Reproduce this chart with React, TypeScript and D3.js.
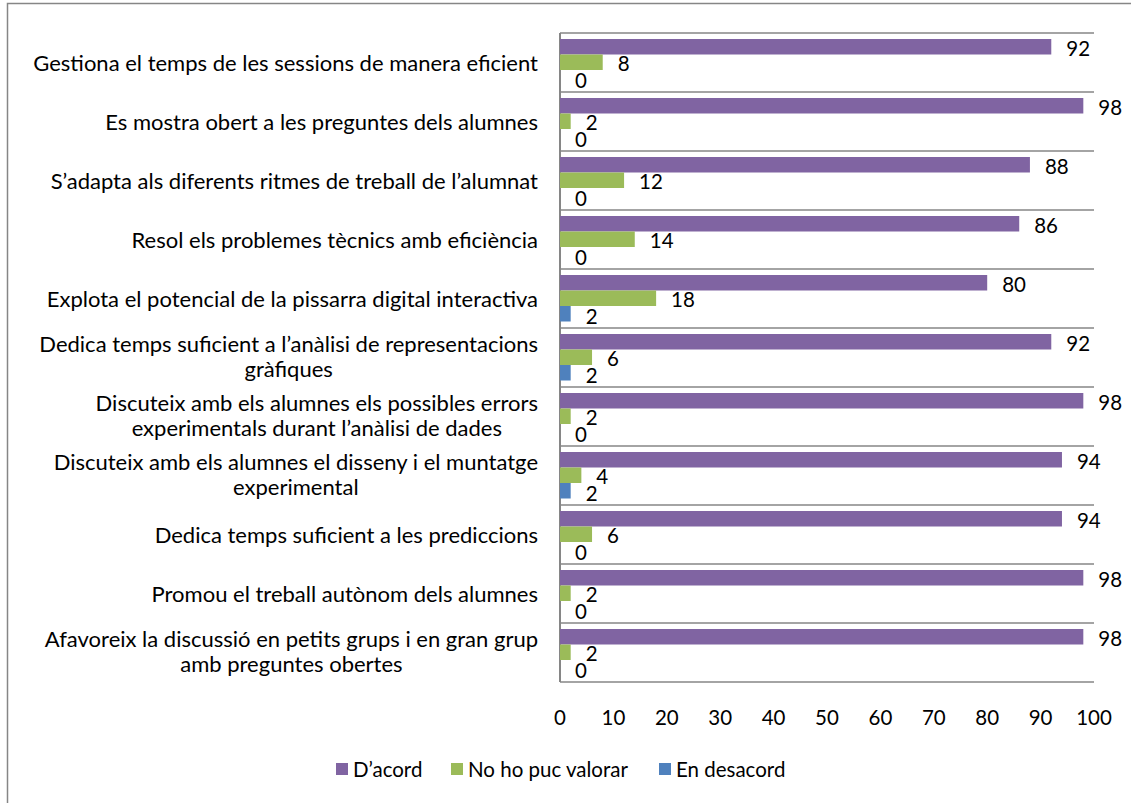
import React, { useEffect, useRef } from "react";
import * as d3 from "d3";

const categories: string[] = [
  "Gestiona el temps de les sessions de manera eficient",
  "Es mostra obert a les preguntes dels alumnes",
  "S’adapta als diferents ritmes de treball de l’alumnat",
  "Resol els problemes tècnics amb eficiència",
  "Explota el potencial de la pissarra digital interactiva",
  "Dedica temps suficient a l’anàlisi de representacions\ngràfiques",
  "Discuteix amb els alumnes els possibles errors\nexperimentals durant l’anàlisi de dades",
  "Discuteix amb els alumnes el disseny i el muntatge\nexperimental",
  "Dedica temps suficient a les prediccions",
  "Promou el treball autònom dels alumnes",
  "Afavoreix la discussió en petits grups i en gran grup\namb preguntes obertes",
];

const seriesNames: string[] = ["D’acord", "No ho puc valorar", "En desacord"];
const seriesColors: string[] = ["#8064A2", "#9BBB59", "#4F81BD"];

const dAcord: number[] = [92, 98, 88, 86, 80, 92, 98, 94, 94, 98, 98];
const noValorar: number[] = [8, 2, 12, 14, 18, 6, 2, 4, 6, 2, 2];
const enDesacord: number[] = [0, 0, 0, 0, 2, 2, 0, 2, 0, 0, 0];

const xTicks: number[] = [0, 10, 20, 30, 40, 50, 60, 70, 80, 90, 100];

const FONT = "Lato, 'Open Sans', sans-serif";
const FS_CAT = 22;
const FS = 20.5;

export default function App() {
  const ref = useRef<SVGSVGElement | null>(null);

  useEffect(() => {
    const svg = d3.select(ref.current);
    svg.selectAll("*").remove();
    const W = 1131, H = 803;
    const left = 560, right = 1094, top = 33, bottom = 682;

    svg.append("rect").attr("x", 0).attr("y", 0).attr("width", W).attr("height", H).attr("fill", "#fff");
    svg.append("rect").attr("x", 7.5).attr("y", 3.5).attr("width", W).attr("height", H)
      .attr("fill", "none").attr("stroke", "#868686").attr("stroke-width", 1.5);

    const x = d3.scaleLinear().domain([0, 100]).range([left, right]);
    const y = d3.scaleBand<number>().domain(d3.range(categories.length)).range([top, bottom]).paddingInner(0).paddingOuter(0);
    const inner = d3.scaleBand<number>().domain([0, 1, 2]).range([6, y.bandwidth() - 6.5]);

    const bounds = d3.range(categories.length + 1).map((i) => top + i * y.bandwidth());
    svg.append("g").selectAll("line").data(bounds).join("line")
      .attr("x1", left).attr("x2", right)
      .attr("y1", (d) => d).attr("y2", (d) => d)
      .attr("stroke", "#868686").attr("stroke-width", 1.5);
    svg.append("line").attr("x1", left).attr("x2", left).attr("y1", top).attr("y2", bottom)
      .attr("stroke", "#868686").attr("stroke-width", 2);

    const series = [dAcord, noValorar, enDesacord];
    series.forEach((vals, s) => {
      const g = svg.append("g");
      g.selectAll("rect").data(vals).join("rect")
        .attr("x", x(0))
        .attr("y", (_d, i) => (y(i) as number) + (inner(s) as number))
        .attr("width", (d) => x(d) - x(0))
        .attr("height", inner.bandwidth())
        .attr("fill", seriesColors[s]);
      g.selectAll("text").data(vals).join("text")
        .attr("x", (d) => x(d) + 15)
        .attr("y", (_d, i) => (y(i) as number) + (inner(s) as number) + inner.bandwidth() / 2 + (s === 2 ? 2.5 : 1))
        .attr("dominant-baseline", "central")
        .attr("font-family", FONT).attr("font-size", FS).attr("fill", "#000")
        .text((d) => String(d));
    });

    const labelRight = 538;
    const lh = 25;
    categories.forEach((c, i) => {
      const lines = c.split("\n");
      const cy = (y(i) as number) + y.bandwidth() / 2 - (lines.length > 1 ? 2 : 0);
      const t = svg.append("text").attr("font-family", FONT).attr("font-size", FS_CAT).attr("fill", "#000");
      const spans = lines.map((ln, k) =>
        t.append("tspan").attr("y", cy + (k - (lines.length - 1) / 2) * lh).attr("dominant-baseline", "central").text(ln)
      );
      if (lines.length === 1) {
        t.attr("text-anchor", "end");
        spans[0].attr("x", labelRight);
      } else {
        const widths = spans.map((sp) => (sp.node() as SVGTSpanElement).getComputedTextLength());
        const mw = Math.max(...widths);
        const cx = labelRight - mw / 2;
        t.attr("text-anchor", "middle");
        spans.forEach((sp) => sp.attr("x", cx));
      }
    });

    svg.append("g").selectAll("text").data(xTicks).join("text")
      .attr("x", (d) => x(d)).attr("y", 717)
      .attr("text-anchor", "middle").attr("dominant-baseline", "central")
      .attr("font-family", FONT).attr("font-size", FS).attr("fill", "#000")
      .text((d) => String(d));

    const legX = [336, 451, 659];
    const lg = svg.append("g");
    seriesNames.forEach((n, i) => {
      lg.append("rect").attr("x", legX[i]).attr("y", 763).attr("width", 12).attr("height", 12).attr("fill", seriesColors[i]);
      lg.append("text").attr("x", legX[i] + 17).attr("y", 769).attr("dominant-baseline", "central")
        .attr("font-family", FONT).attr("font-size", FS).attr("fill", "#000").text(n);
    });
  }, []);

  return (
    <svg ref={ref} width={1131} height={803}
      style={{ position: "absolute", left: 0, top: 0, display: "block" }} />
  );
}
